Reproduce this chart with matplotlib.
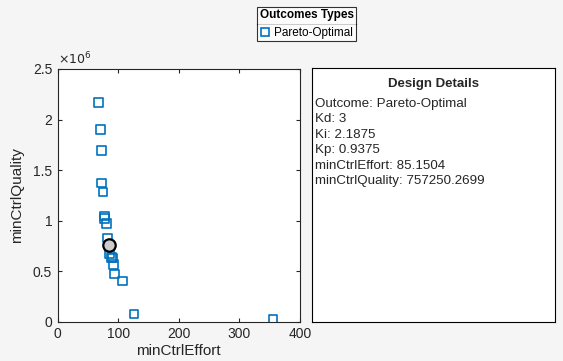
import matplotlib
matplotlib.use("Agg")
import matplotlib.pyplot as plt
from matplotlib.lines import Line2D

plt.rcParams['font.family'] = ['Liberation Sans', 'DejaVu Sans']

effort = [67.1, 70.4, 72.1, 72.1, 74.3, 77.0, 77.0, 80.3, 82.0, 85.15, 85.3, 88.6, 90.2, 91.9, 93.5, 106.7, 126.5, 354.9]
quality = [2.170e6, 1.903e6, 1.695e6, 1.369e6, 1.280e6, 1.049e6, 1.022e6, 0.973e6, 0.831e6, 0.757e6,
           0.669e6, 0.636e6, 0.627e6, 0.567e6, 0.472e6, 0.402e6, 0.073e6, 0.023e6]
sel_effort = 85.1504
sel_quality = 757250.2699
details = ["Outcome: Pareto-Optimal", "Kd: 3", "Ki: 2.1875", "Kp: 0.9375",
           "minCtrlEffort: 85.1504", "minCtrlQuality: 757250.2699"]
xticks = [0, 100, 200, 300, 400]
yticks = [0, 0.5e6, 1e6, 1.5e6, 2e6, 2.5e6]
yticklabels = ["0", "0.5", "1", "1.5", "2", "2.5"]

W, H = 563, 361
bg = '#f5f5f5'
fig = plt.figure(figsize=(W/100, H/100), dpi=100, facecolor=bg)

def rect(x0, y0, x1, y1):
    return [x0/W, 1 - y1/H, (x1-x0)/W, (y1-y0)/H]

ax = fig.add_axes(rect(57.7, 69, 300, 321.7))
ax.set_facecolor('white')
blue = '#0072BD'
ax.scatter(effort, quality, marker='s', s=36, facecolors='none', edgecolors=blue, linewidths=1.2, zorder=3)
ax.scatter([sel_effort], [sel_quality], marker='o', s=80, facecolors='#cccccc', edgecolors='black', linewidths=1.6, zorder=4)
ax.set_xlim(0, 400)
ax.set_ylim(0, 2.5e6)
ax.set_xticks(xticks)
ax.set_yticks(yticks)
ax.set_yticklabels(yticklabels)
ax.tick_params(direction='in', top=True, right=True, length=3, labelsize=10, colors='#262626', pad=4)
for s in ax.spines.values():
    s.set_color('#262626')
ax.set_xlabel('minCtrlEffort', fontsize=11, color='#262626', labelpad=2)
ax.set_ylabel('minCtrlQuality', fontsize=11, color='#262626', labelpad=6)
ax.text(0, 1.005, r'$\times10^{6}$', transform=ax.transAxes, fontsize=9, color='#262626', ha='left', va='bottom')

ax2 = fig.add_axes(rect(312.3, 68.5, 554.5, 321.7))
ax2.set_facecolor('white')
ax2.set_xticks([]); ax2.set_yticks([])
for s in ax2.spines.values():
    s.set_color('black')
ax2.text(0.5, (321.7-84)/(321.7-68.5), 'Design Details', transform=ax2.transAxes, ha='center', va='center',
         fontsize=9.5, fontweight='bold', color='#262626')
for i, line in enumerate(details):
    ypx = 103.5 + i*15.5
    ax2.text(2.5/242, (321.7-ypx)/(321.7-68.5), line, transform=ax2.transAxes, ha='left', va='center',
             fontsize=9.6, color='#262626')

handle = Line2D([], [], linestyle='none', marker='s', markersize=6, markerfacecolor='none',
                markeredgecolor=blue, markeredgewidth=1.2)
leg = fig.legend([handle], ['Pareto-Optimal'], title='Outcomes Types', loc='center',
                 bbox_to_anchor=((257+356)/2/W, 1 - 24/H), fontsize=8.5, title_fontsize=8.5,
                 frameon=True, fancybox=False, edgecolor='black', handlelength=0.8, handletextpad=0.4,
                 borderpad=0.2, borderaxespad=0)
leg.get_title().set_fontweight('bold')
leg.get_frame().set_linewidth(0.8)

# separator between legend title and entries
fig.add_artist(Line2D([257/W, 356/W], [1 - 24.3/H, 1 - 24.3/H], transform=fig.transFigure,
                      color='black', linewidth=0.8))

fig.savefig('out.png', dpi=100, facecolor=bg)
